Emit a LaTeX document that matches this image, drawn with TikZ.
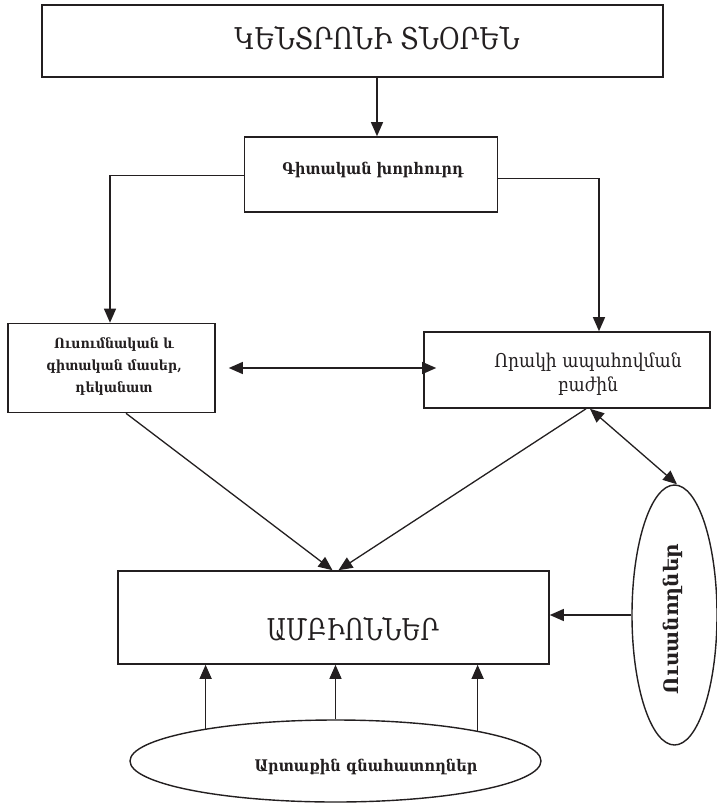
\documentclass[tikz,border=0pt]{standalone}
\usepackage{fontspec}
\setmainfont{DejaVu Serif}
\usetikzlibrary{arrows.meta,shapes.geometric}
\definecolor{ink}{HTML}{231F20}
\begin{document}
\begin{tikzpicture}[x=1pt,y=-1pt,
  box/.style={draw=ink,line width=1.6pt,inner sep=0pt},
  oval/.style={draw=ink,ellipse,line width=1.4pt,inner sep=0pt},
  conn/.style={draw=ink,line width=1.3pt,-{Triangle[length=14pt,width=12pt]}},
  dconn/.style={draw=ink,line width=1.3pt,{Triangle[length=14pt,width=12pt]}-{Triangle[length=14pt,width=12pt]}},
  lbl/.style={inner sep=0pt,align=center,text=ink}
]
\useasboundingbox (0,0) rectangle (717,806);
\fill[white] (0,0) rectangle (717,806);

\node[box,minimum width=621pt,minimum height=72pt] (dir) at (352.5,41) {};
\node[lbl,xscale=0.84,font=\fontsize{30}{34}\selectfont] (dirt) at (377,38) {ԿԵՆՏՐՈՆԻ ՏՆՕՐԵՆ};

\node[box,minimum width=253pt,minimum height=75pt] (council) at (371,174.5) {};
\node[lbl,xscale=0.9,font=\bfseries\fontsize{16}{19}\selectfont] (councilt) at (373,170) {Գիտական խորհուրդ};

\node[box,minimum width=207pt,minimum height=89pt] (edu) at (111.5,368) {};
\node[lbl,xscale=0.9,font=\bfseries\fontsize{14}{22}\selectfont] (edut) at (114,367) {Ուսումնական և\\գիտական մասեր,\\դեկանատ};

\node[box,minimum width=286pt,minimum height=76pt] (qa) at (567,370) {};
\node[lbl,xscale=0.9,font=\fontsize{19}{24}\selectfont] (qat) at (588,374) {Որակի ապահովման\\բաժին};

\node[box,minimum width=431pt,minimum height=93pt] (amb) at (333.5,617.5) {};
\node[lbl,xscale=0.79,font=\fontsize{30}{34}\selectfont] (ambt) at (353,629) {ԱՄԲԻՈՆՆԵՐ};

\node[oval,minimum width=85pt,minimum height=260pt] (stud) at (674.5,615) {};
\node[lbl,rotate=90,font=\bfseries\fontsize{20}{24}\selectfont] (studt) at (673,619) {Ուսանողներ};

\node[oval,minimum width=411pt,minimum height=82pt] (ext) at (335.5,761) {};
\node[lbl,xscale=0.91,font=\bfseries\fontsize{16}{19}\selectfont] (extt) at (366,767) {Արտաքին գնահատողներ};

\draw[conn] (dirt |- dir.south) -- (dirt |- council.north);
\draw[conn] ([yshift=-1pt]council.west) -| ([xshift=-1.5pt]edu.north);
\draw[conn] ([yshift=-4pt]council.east) -| ([xshift=32pt]qa.north);
\draw[dconn] ([xshift=13pt]edu.east) -- ([xshift=13pt]edu.east -| qa.west);
\draw[conn] ([xshift=14.5pt]edu.south) -- ([xshift=-1pt]amb.north);
\draw[conn] ([xshift=19pt]qa.south) -- ([xshift=5pt]amb.north);
\draw[dconn] ([xshift=23pt]qa.south) -- ([xshift=2.5pt]stud.north);
\draw[conn] (stud.west) -- (stud.west -| amb.east);
\draw[conn] (ext.166) -- (ext.166 |- amb.south);
\draw[conn] (ext.north) -- (ext.north |- amb.south);
\draw[conn] (ext.12.3) -- (ext.12.3 |- amb.south);
\end{tikzpicture}
\end{document}
